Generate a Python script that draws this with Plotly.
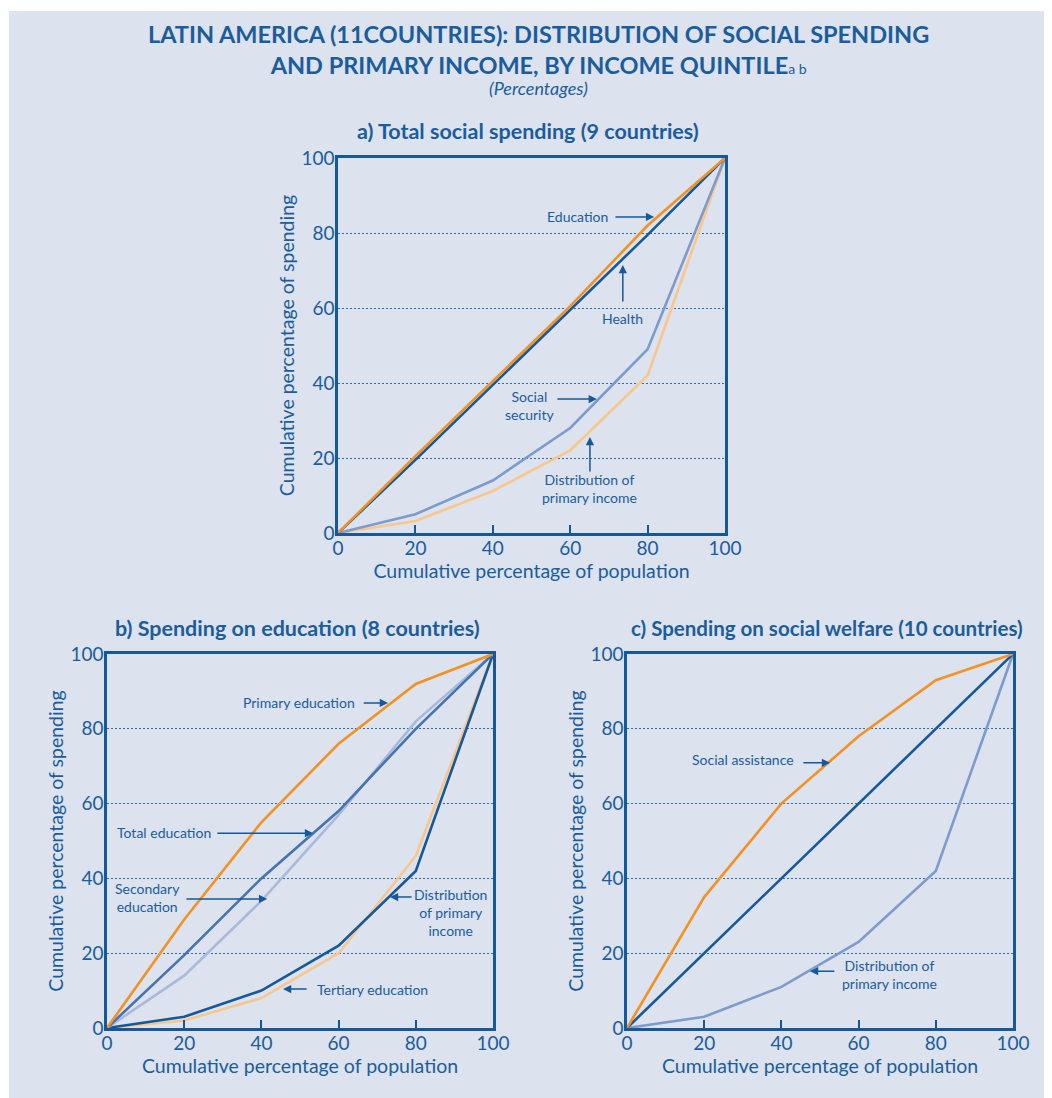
import plotly.graph_objects as go

# ---------------- data ----------------
quintiles = [0, 20, 40, 60, 80, 100]
tick_labels = ["0", "20", "40", "60", "80", "100"]

# panel a) Total social spending (9 countries)
a_education = [0, 20.5, 40.5, 60.5, 82, 100]
a_health = [0, 19.5, 39.5, 59.5, 79.5, 100]
a_social_security = [0, 5, 14, 28, 49, 100]
a_primary_income = [0, 3.2, 11.2, 22, 42, 100]

# panel b) Spending on education (8 countries)
b_primary_edu = [0, 29, 55, 76, 92, 100]
b_total_edu = [0, 19.5, 40, 58, 80, 100]
b_secondary_edu = [0, 14, 34, 57, 82, 100]
b_tertiary_edu = [0, 2, 8, 20, 46, 100]
b_primary_income = [0, 3, 10, 22, 42, 100]

# panel c) Spending on social welfare (10 countries)
c_social_assistance = [0, 35, 60, 78, 93, 100]
c_equality = [0, 20, 40, 60, 80, 100]
c_primary_income = [0, 3, 11, 23, 42, 100]

# ---------------- styles ----------------
TXT = "#1b5d9c"
ORANGE = "#f29222"
DARK = "#15599b"
MID = "#4673b1"
GREYBLUE = "#7e9bcd"
LIGHTBLUE = "#a9b9dc"
LIGHTORANGE = "#f9c68c"
BG = "#dce2ee"
FONT = "Lato"

OFF = 8  # page body margin
W, H = 1052 - OFF, 1098 - OFF


def fx(x):
    return (x - OFF) / W


def fy(y):
    return 1 - (y - OFF) / H


def px(x0, x1):
    return [fx(x0), fx(x1)]


def py(top, bottom):
    return [fy(bottom), fy(top)]


fig = go.Figure()

# background panel
fig.add_shape(type="rect", xref="paper", yref="paper", x0=fx(9), x1=1.0, y0=0.0, y1=fy(11),
              fillcolor=BG, line_width=0, layer="below")


def line(xaxis, yaxis, y, color, width=2.6):
    fig.add_trace(go.Scatter(x=quintiles, y=y, mode="lines", xaxis=xaxis, yaxis=yaxis,
                             line=dict(color=color, width=width), showlegend=False,
                             hoverinfo="skip", cliponaxis=False))


# panel a
line("x", "y", a_primary_income, LIGHTORANGE)
line("x", "y", a_social_security, GREYBLUE)
line("x", "y", a_health, DARK)
line("x", "y", a_education, ORANGE)
# panel b
line("x2", "y2", b_tertiary_edu, LIGHTORANGE)
line("x2", "y2", b_primary_income, DARK)
line("x2", "y2", b_secondary_edu, LIGHTBLUE)
line("x2", "y2", b_total_edu, MID)
line("x2", "y2", b_primary_edu, ORANGE)
# panel c
line("x3", "y3", c_primary_income, GREYBLUE)
line("x3", "y3", c_equality, DARK)
line("x3", "y3", c_social_assistance, ORANGE)

axis_common = dict(range=[0, 100], tickvals=quintiles, ticktext=tick_labels,
                   showline=True, mirror=True, linecolor=DARK, linewidth=2.5,
                   tickfont=dict(family=FONT, size=19, color=TXT), zeroline=False,
                   fixedrange=True, automargin=False)
xax = dict(axis_common, ticks="inside", ticklen=8, tickwidth=1.5, tickcolor=DARK, showgrid=False,
           ticklabelstandoff=-4,
           title=dict(text="Cumulative percentage of population",
                      font=dict(family=FONT, size=19.5, color=TXT), standoff=4))
yax = dict(axis_common, ticks="", showgrid=True, gridcolor="#2a6cb0", griddash="1.5px,2.5px",
           gridwidth=1.2, ticklabelstandoff=-3,
           title=dict(text="Cumulative percentage of spending",
                      font=dict(family=FONT, size=19.5, color=TXT), standoff=2))

fig.update_layout(
    width=W, height=H, margin=dict(l=0, r=0, t=0, b=0, autoexpand=False),
    paper_bgcolor="white", plot_bgcolor="white",
    font=dict(family=FONT, color=TXT),
    xaxis=dict(xax, domain=px(338, 725), anchor="y"),
    yaxis=dict(yax, domain=py(158, 533), anchor="x"),
    xaxis2=dict(xax, domain=px(107, 493), anchor="y2"),
    yaxis2=dict(yax, domain=py(654, 1028), anchor="x2"),
    xaxis3=dict(xax, domain=px(627, 1013), anchor="y3"),
    yaxis3=dict(yax, domain=py(654, 1028), anchor="x3"),
)

# titles
fig.add_annotation(xref="paper", yref="paper", x=fx(538), y=fy(50), xanchor="center",
                   yanchor="middle",
                   text="<b>LATIN AMERICA (11COUNTRIES): DISTRIBUTION OF SOCIAL SPENDING<br>"
                        "AND PRIMARY INCOME, BY INCOME QUINTILE</b>"
                        "<span style='font-size:14px'>a b</span>",
                   showarrow=False, align="center",
                   font=dict(family=FONT, size=23.5, color=TXT))
fig.add_annotation(xref="paper", yref="paper", x=fx(538), y=fy(88), xanchor="center",
                   yanchor="middle",
                   text="<i>(Percentages)</i>", showarrow=False,
                   font=dict(family=FONT, size=18, color=TXT))
for (cx, cy, t, s) in [(528, 131, "a) Total social spending (9 countries)", 21.5),
                       (297, 628, "b) Spending on education (8 countries)", 21.5),
                       (827, 628, "c) Spending on social welfare (10 countries)", 20.5)]:
    fig.add_annotation(xref="paper", yref="paper", x=fx(cx), y=fy(cy), xanchor="center",
                       yanchor="middle", text="<b>" + t + "</b>", showarrow=False,
                       font=dict(family=FONT, size=s, color=TXT))


def label(xr, yr, x, y, text):
    fig.add_annotation(xref=xr, yref=yr, x=x, y=y, text=text, showarrow=False,
                       xanchor="center", yanchor="middle",
                       font=dict(family=FONT, size=14, color=TXT), align="center")


def arrow(xr, yr, x0, y0, x1, y1):
    fig.add_annotation(xref=xr, yref=yr, axref=xr, ayref=yr, x=x1, y=y1, ax=x0, ay=y0,
                       text="", showarrow=True, arrowhead=2, arrowsize=1.1, arrowwidth=1.5,
                       arrowcolor=DARK, standoff=0, startstandoff=0)


# panel a labels
label("x", "y", 62.0, 84.3, "Education")
arrow("x", "y", 71.3, 84.3, 81.7, 84.3)
label("x", "y", 73.4, 57.3, "Health")
arrow("x", "y", 73.6, 61.3, 73.6, 71.5)
label("x", "y", 49.4, 34.1, "Social<br>security")
arrow("x", "y", 56.3, 35.7, 66.9, 35.7)
label("x", "y", 65.1, 12.0, "Distribution of<br>primary income")
arrow("x", "y", 65.1, 16.0, 65.1, 25.6)

# panel b labels
label("x2", "y2", 49.7, 86.9, "Primary education")
arrow("x2", "y2", 66.1, 86.9, 72.8, 86.9)
label("x2", "y2", 14.8, 52.4, "Total education")
arrow("x2", "y2", 28.2, 52.1, 53.4, 52.1)
label("x2", "y2", 10.6, 34.8, "Secondary<br>education")
arrow("x2", "y2", 20.2, 34.5, 41.5, 34.5)
label("x2", "y2", 89.1, 31.0, "Distribution<br>of primary<br>income")
arrow("x2", "y2", 79.3, 35.0, 73.3, 35.0)
label("x2", "y2", 68.7, 10.4, "Tertiary education")
arrow("x2", "y2", 52.1, 10.4, 45.6, 10.4)

# panel c labels
label("x3", "y3", 30.1, 71.9, "Social assistance")
arrow("x3", "y3", 45.3, 70.9, 52.6, 70.9)
label("x3", "y3", 68.1, 14.2, "Distribution of<br>primary income")
arrow("x3", "y3", 54.1, 15.2, 47.4, 15.2)

fig.write_html("out.html")
